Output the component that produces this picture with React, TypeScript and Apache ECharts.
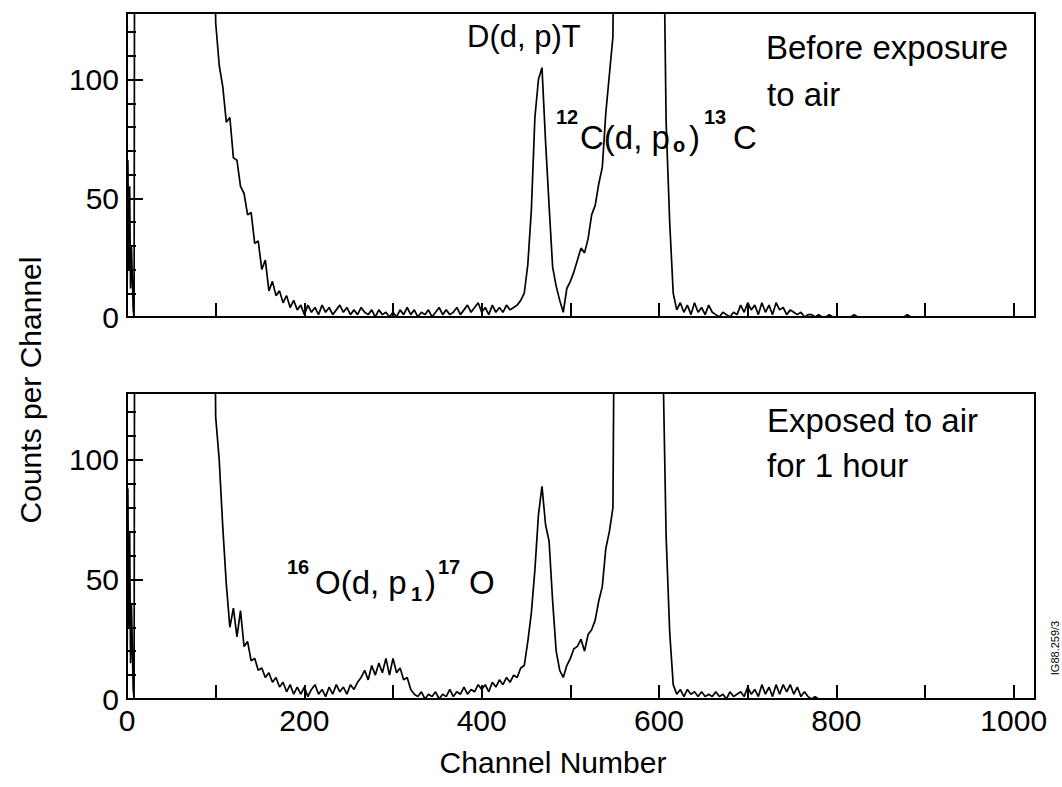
import { useEffect, useRef } from 'react';
import * as echarts from 'echarts';

const FONT = 'Liberation Sans';
const X_MAX = 1024;
const Y_MAX = 128;
const X_TICK_LABELS = [0, 200, 400, 600, 800, 1000];
const Y_TICK_LABELS = [0, 50, 100];
const START_CHANNEL = 12;
const CHANNEL_STEP = 4;

// Before exposure to air (top panel)
const BEFORE_HEAD: [number, number][] = [[0, 0], [1, 66], [2, 20], [3, 55], [4, 12], [5, 30], [7, 3], [8, 0], [9, 300]];
const BEFORE_COUNTS = [
  // 12-96
  300, 300, 300, 300, 300, 300, 300, 300, 300, 300, 300, 300, 300, 300, 300, 300, 300, 300, 300, 300, 300, 300,
  // 100-196
  124, 106, 97, 82, 84, 67, 66, 55, 52, 43, 44, 31, 32, 20, 24, 11, 15, 9, 11, 6, 9, 4, 7, 3, 5,
  // 200-296
  1, 5, 2, 4, 1, 5, 2, 4, 1, 3, 5, 2, 4, 1, 3, 1, 4, 2, 1, 3, 0, 3, 1, 2, 0,
  // 300-396
  2, 0, 3, 1, 4, 1, 3, 0, 2, 1, 3, 0, 2, 4, 1, 3, 1, 2, 4, 1, 3, 5, 2, 4, 6,
  // 400-436
  2, 4, 1, 5, 2, 4, 2, 5, 3, 4,
  // 440-548
  5, 7, 10, 22, 45, 84, 100, 105, 74, 47, 21, 13, 7, 2, 12, 15, 19, 24, 29, 27, 33, 43, 47, 56, 63, 86, 102, 118,
  // 552-600
  300, 300, 300, 300, 300, 300, 300, 300, 300, 300, 300, 300, 300,
  // 604-620
  200, 82, 40, 10, 3,
  // 624-780
  6, 2, 5, 1, 6, 2, 4, 1, 5, 2, 1, 0, 2, 1, 0, 2, 1, 5, 2, 6, 3, 5, 1, 6, 2, 5, 1, 6, 3, 4, 1, 3, 2, 1, 2, 0, 1, 1, 0, 1,
  // 784-1024
  0, 0, 1, 0, 0, 0, 0, 0, 0, 1, 0, 0, 0, 0, 0, 0, 0, 0, 0, 0, 0, 0, 0, 0, 1, 0, 0, 0, 0, 0,
  0, 0, 0, 0, 0, 0, 0, 0, 0, 0, 0, 0, 0, 0, 0, 0, 0, 0, 0, 0, 0, 0, 0, 0, 0, 0, 0, 0, 0, 0, 0,
];

// Exposed to air for 1 hour (bottom panel)
const AFTER_HEAD: [number, number][] = [[0, 0], [1, 88], [2, 30], [3, 70], [4, 15], [5, 40], [7, 4], [8, 0], [9, 300]];
const AFTER_COUNTS = [
  // 12-96
  300, 300, 300, 300, 300, 300, 300, 300, 300, 300, 300, 300, 300, 300, 300, 300, 300, 300, 300, 300, 300, 300,
  // 100-196
  118, 100, 72, 48, 30, 38, 26, 37, 22, 24, 16, 17, 12, 13, 9, 11, 7, 9, 5, 7, 3, 6, 2, 5, 2,
  // 200-296
  5, 1, 4, 6, 2, 4, 1, 5, 2, 6, 3, 5, 2, 6, 4, 7, 9, 12, 8, 14, 10, 15, 11, 17, 10,
  // 300-396
  17, 11, 13, 8, 9, 4, 2, 1, 3, 0, 2, 1, 3, 0, 2, 1, 4, 1, 3, 2, 5, 2, 4, 3, 6,
  // 400-436
  4, 6, 3, 7, 5, 8, 6, 9, 7, 10,
  // 440-548
  9, 13, 14, 24, 36, 54, 77, 89, 73, 66, 41, 20, 12, 9, 14, 17, 21, 22, 25, 20, 27, 29, 33, 41, 47, 63, 70, 80,
  // 552-600
  300, 300, 300, 300, 300, 300, 300, 300, 300, 300, 300, 300, 300,
  // 604-620
  150, 68, 28, 6, 2,
  // 624-780
  4, 1, 4, 2, 3, 1, 3, 1, 2, 1, 3, 1, 2, 0, 3, 1, 2, 3, 1, 5, 2, 4, 1, 6, 2, 5, 1, 6, 2, 6, 3, 6, 2, 5, 1, 3, 1, 0, 1, 0,
  // 784-1024
  0, 0, 0, 0, 0, 0, 0, 0, 0, 0, 0, 0, 0, 0, 0, 0, 0, 0, 0, 0, 0, 0, 0, 0, 0, 0, 0, 0, 0, 0,
  0, 0, 0, 0, 0, 0, 0, 0, 0, 0, 0, 0, 0, 0, 0, 0, 0, 0, 0, 0, 0, 0, 0, 0, 0, 0, 0, 0, 0, 0, 0,
];

function toPairs(head: [number, number][], counts: number[]) {
  return head.concat(counts.map((v, i) => [START_CHANNEL + i * CHANNEL_STEP, v] as [number, number]));
}

const black = '#000';

function xAxisFor(gridIndex: number, showLabels: boolean) {
  return {
    type: 'value',
    gridIndex,
    min: 0,
    max: X_MAX,
    interval: 100,
    axisLine: { show: true, lineStyle: { color: black, width: 2 } },
    axisTick: { show: true, inside: true, length: 14, lineStyle: { color: black, width: 2 } },
    splitLine: { show: false },
    axisLabel: {
      show: showLabels,
      margin: 6,
      color: black,
      fontSize: 30,
      fontFamily: FONT,
      showMaxLabel: true,
      formatter: (v: number) => (X_TICK_LABELS.includes(v) ? String(v) : ''),
    },
  };
}

function yAxesFor(gridIndex: number) {
  return [
    {
      type: 'value',
      gridIndex,
      position: 'left',
      min: 0,
      max: Y_MAX,
      interval: 50,
      axisLine: { show: true, lineStyle: { color: black, width: 2 } },
      axisTick: { show: true, inside: true, length: 16, lineStyle: { color: black, width: 2 } },
      splitLine: { show: false },
      axisLabel: {
        show: true,
        margin: 8,
        color: black,
        fontSize: 30,
        fontFamily: FONT,
        formatter: (v: number) => (Y_TICK_LABELS.includes(v) ? String(v) : ''),
      },
    },
    {
      type: 'value',
      gridIndex,
      position: 'left',
      offset: 0,
      min: 0,
      max: Y_MAX,
      interval: 10,
      axisLine: { show: false },
      axisTick: { show: true, inside: true, length: 9, lineStyle: { color: black, width: 2 } },
      splitLine: { show: false },
      axisLabel: { show: false },
    },
  ];
}

function txt(x: number, y: number, text: string, size: number, bold = false, extra: any = {}) {
  return {
    type: 'text',
    x,
    y,
    ...extra,
    style: {
      text,
      fill: black,
      fontSize: size,
      fontFamily: FONT,
      fontWeight: bold ? 'bold' : 'normal',
      align: extra.align || 'left',
      verticalAlign: 'middle',
    },
  };
}

export default function App() {
  const ref = useRef<HTMLDivElement>(null);
  useEffect(() => {
    if (!ref.current) return;
    const chart = echarts.init(ref.current, undefined, { renderer: 'svg' });
    const lineStyle = { color: black, width: 1.7 };
    chart.setOption({
      animation: false,
      backgroundColor: '#fff',
      grid: [
        { left: 127, top: 13, width: 908, height: 304, show: true, borderColor: black, borderWidth: 2, backgroundColor: 'transparent' },
        { left: 127, top: 393, width: 908, height: 306, show: true, borderColor: black, borderWidth: 2, backgroundColor: 'transparent' },
      ],
      xAxis: [xAxisFor(0, false), xAxisFor(1, true)],
      yAxis: [...yAxesFor(0), ...yAxesFor(1)],
      series: [
        {
          name: 'Before exposure to air',
          type: 'line',
          xAxisIndex: 0,
          yAxisIndex: 0,
          data: toPairs(BEFORE_HEAD, BEFORE_COUNTS),
          showSymbol: false,
          clip: true,
          lineStyle,
          itemStyle: { color: black },
        },
        {
          name: 'Exposed to air for 1 hour',
          type: 'line',
          xAxisIndex: 1,
          yAxisIndex: 2,
          data: toPairs(AFTER_HEAD, AFTER_COUNTS),
          showSymbol: false,
          clip: true,
          lineStyle,
          itemStyle: { color: black },
        },
      ],
      graphic: [
        txt(467, 36, 'D(d, p)T', 31),
        txt(556, 117, '12', 20, true),
        txt(580, 137, 'C(d, p', 33),
        txt(673, 145, 'o', 20, true),
        txt(689, 137, ')', 33),
        txt(704, 117, '13', 20, true),
        txt(733, 137, 'C', 33),
        txt(766, 47, 'Before exposure', 33),
        txt(767, 94, 'to air', 33),
        txt(767, 420, 'Exposed to air', 33),
        txt(767, 465, 'for 1 hour', 33),
        txt(287, 567, '16', 20, true),
        txt(315, 582, 'O(d, p', 33),
        txt(411, 594, '1', 20, true),
        txt(425, 582, ')', 33),
        txt(438, 567, '17', 20, true),
        txt(469, 582, 'O', 33),
        txt(30, 390, 'Counts per Channel', 30, false, { rotation: Math.PI / 2, align: 'center' }),
        txt(553, 762, 'Channel Number', 30, false, { align: 'center' }),
        txt(1055, 648, 'IG88.259/3', 11, false, { rotation: Math.PI / 2, align: 'center' }),
      ],
    });
    return () => chart.dispose();
  }, []);
  return <div ref={ref} style={{ position: 'fixed', left: 0, top: 0, width: 1062, height: 787 }} />;
}
